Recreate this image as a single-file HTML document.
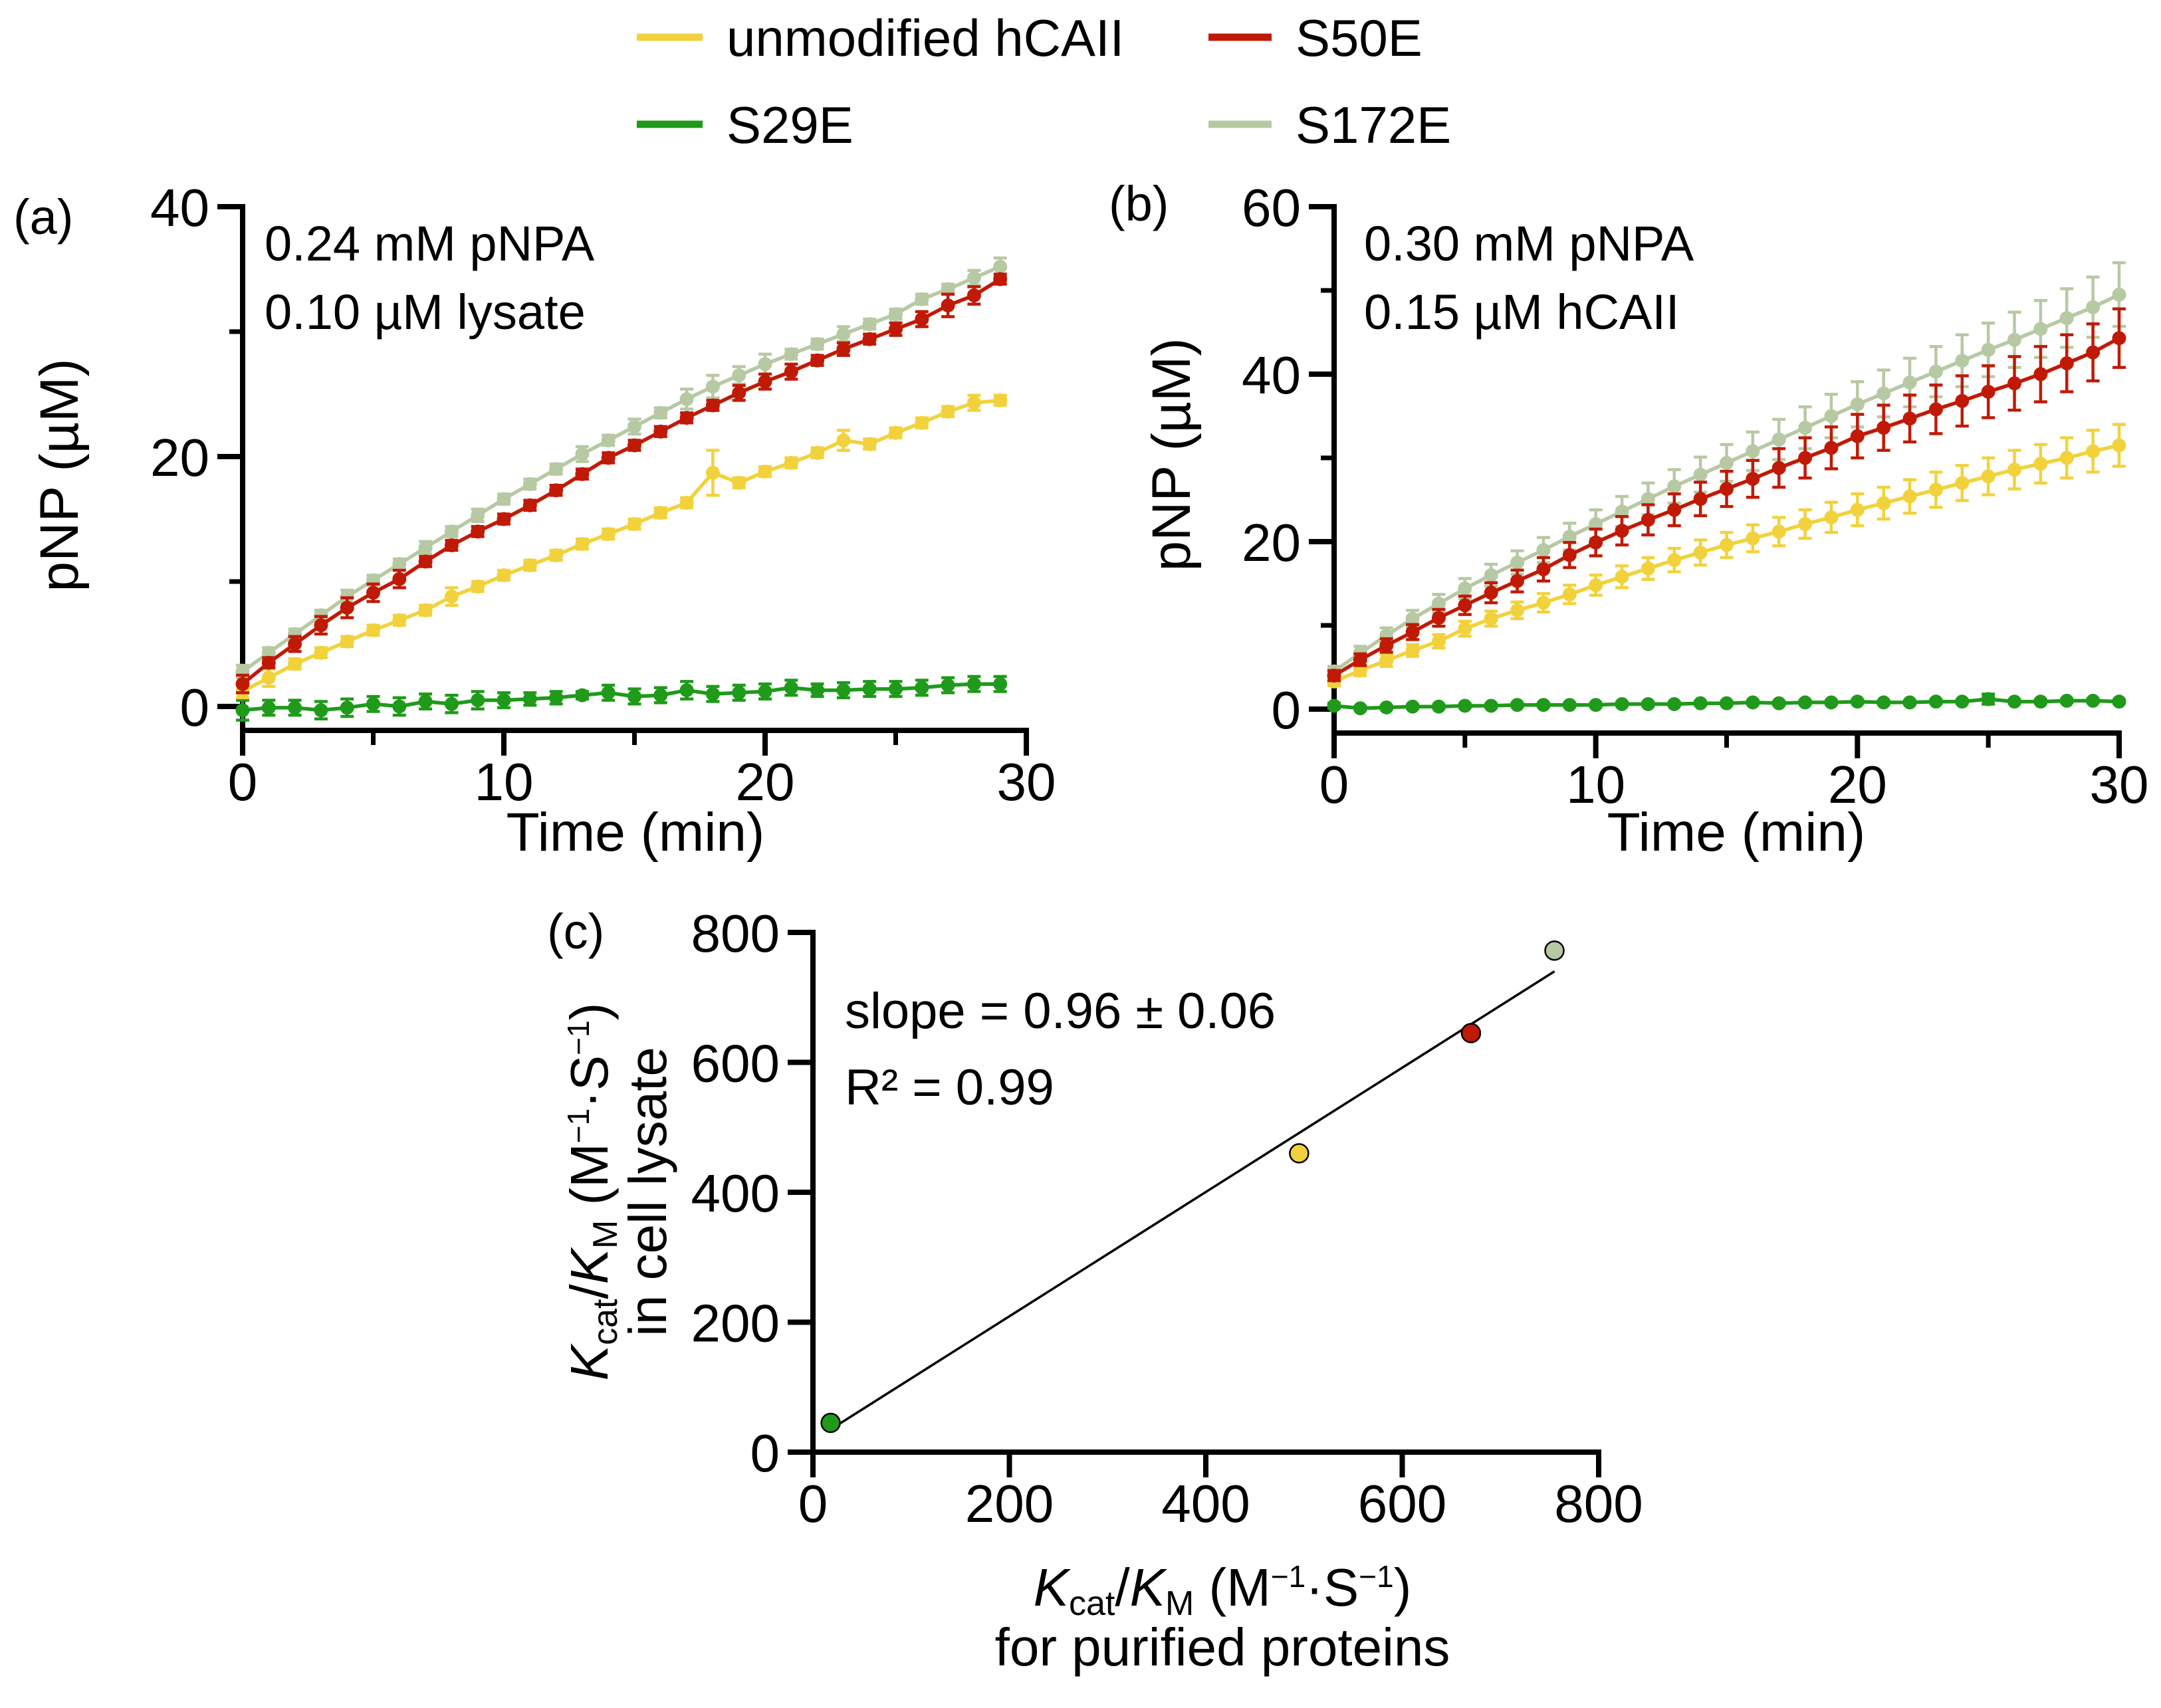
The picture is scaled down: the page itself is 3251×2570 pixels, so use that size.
<!DOCTYPE html>
<html><head><meta charset="utf-8"><style>
html,body{margin:0;padding:0;background:#fff}
svg{display:block}
text{font-family:"Liberation Sans",Arial,sans-serif;fill:#000}
</style></head><body>
<svg id="fig" width="3251" height="2570" viewBox="0 0 3251 2570" xmlns="http://www.w3.org/2000/svg">
<g>
 <g><line x1="958" y1="56" x2="1057" y2="56" stroke="#f2d23c" stroke-width="11"/><text x="1093" y="84" font-size="78">unmodified hCAII</text></g>
 <g><line x1="1818" y1="56" x2="1913" y2="56" stroke="#c01a06" stroke-width="11"/><text x="1949" y="84" font-size="78">S50E</text></g>
 <g><line x1="958" y1="187" x2="1057" y2="187" stroke="#1f9a1a" stroke-width="11"/><text x="1093" y="215" font-size="78">S29E</text></g>
 <g><line x1="1818" y1="187" x2="1913" y2="187" stroke="#b7c9a3" stroke-width="11"/><text x="1949" y="215" font-size="78">S172E</text></g>
</g>
<text x="20" y="352" font-size="74">(a)</text>
<text x="1668" y="332" font-size="74">(b)</text>
<text x="823" y="1427" font-size="74">(c)</text>
<g id="pa"></g>
<g id="pb"></g>
<g id="pc"></g>
</svg>
<script>
const NS="http://www.w3.org/2000/svg";
const colors={yellow:"#f2d23c",red:"#c01a06",green:"#1f9a1a",gray:"#b7c9a3"};
// Panel A data (time 0..29 min)
const aTime=[0,1,2,3,4,5,6,7,8,9,10,11,12,13,14,15,16,17,18,19,20,21,22,23,24,25,26,27,28,29];
const aGray=[2.8,4.3,5.8,7.3,8.8,10.1,11.4,12.7,14.0,15.3,16.6,17.8,19.0,20.2,21.3,22.4,23.5,24.6,25.6,26.5,27.4,28.2,29.0,29.8,30.6,31.4,32.6,33.4,34.3,35.2];
const aRed=[1.8,3.5,5.0,6.5,7.9,9.1,10.2,11.6,12.9,14.0,15.0,16.1,17.3,18.6,19.9,20.9,22.0,23.1,24.1,25.1,26.0,26.8,27.7,28.6,29.4,30.2,31.0,32.1,32.9,34.2];
const aYellow=[1.2,2.3,3.4,4.3,5.2,6.1,6.9,7.7,8.8,9.6,10.5,11.3,12.1,13.0,13.8,14.6,15.5,16.3,18.7,17.9,18.8,19.5,20.3,21.3,21.0,21.9,22.7,23.6,24.3,24.5];
const aGreen=[-0.3,-0.1,-0.1,-0.3,-0.1,0.2,0.0,0.4,0.2,0.5,0.5,0.6,0.7,0.9,1.1,0.8,0.9,1.3,1.0,1.1,1.2,1.5,1.3,1.3,1.4,1.4,1.5,1.7,1.8,1.8];
const aErrGray=[0.5,0.4,0.4,0.4,0.5,0.4,0.4,0.5,0.4,0.5,0.4,0.4,0.4,0.6,0.4,0.6,0.4,0.8,0.9,0.7,0.8,0.4,0.4,0.6,0.4,0.4,0.4,0.4,0.6,0.7];
const aErrRed=[0.7,0.4,0.6,0.7,0.8,0.7,0.7,0.4,0.4,0.4,0.4,0.4,0.4,0.4,0.4,0.4,0.4,0.4,0.4,0.6,0.6,0.6,0.4,0.5,0.4,0.5,0.6,0.9,0.7,0.4];
const aErrYellow=[0.5,0.7,0.4,0.4,0.4,0.4,0.4,0.4,0.7,0.4,0.4,0.4,0.4,0.4,0.4,0.4,0.4,0.4,1.8,0.4,0.4,0.4,0.4,0.8,0.4,0.4,0.4,0.4,0.6,0.4];
const aErrGreen=[0.8,0.6,0.6,0.7,0.7,0.6,0.7,0.6,0.7,0.7,0.6,0.5,0.5,0.3,0.6,0.6,0.6,0.7,0.6,0.6,0.6,0.6,0.5,0.6,0.6,0.6,0.6,0.6,0.6,0.6];
const aYTicks=[0,20,40], aXTicks=[0,10,20,30];
// Panel B data (time 0..30 min)
const bTime=[0,1,2,3,4,5,6,7,8,9,10,11,12,13,14,15,16,17,18,19,20,21,22,23,24,25,26,27,28,29,30];
const bGray=[4.5,6.7,8.8,10.8,12.6,14.4,16.0,17.5,19.0,20.6,22.1,23.6,25.1,26.6,28.0,29.4,30.8,32.2,33.6,35.0,36.4,37.7,39.0,40.3,41.6,42.9,44.1,45.4,46.7,48.0,49.5];
const bRed=[4.0,5.9,7.6,9.2,10.9,12.4,13.9,15.3,16.7,18.4,19.9,21.3,22.6,23.8,25.1,26.3,27.5,28.8,30.0,31.2,32.6,33.6,34.7,35.8,36.8,37.9,38.9,40.0,41.3,42.6,44.3];
const bYellow=[3.3,4.6,5.8,7.0,8.1,9.6,10.8,11.8,12.7,13.7,14.8,15.8,16.8,17.8,18.7,19.6,20.4,21.2,22.1,22.9,23.8,24.6,25.4,26.2,27.0,27.8,28.6,29.3,30.0,30.8,31.5];
const bGreen=[0.4,0.1,0.2,0.3,0.3,0.4,0.4,0.5,0.5,0.5,0.5,0.6,0.6,0.6,0.7,0.7,0.8,0.7,0.8,0.8,0.9,0.8,0.8,0.9,0.9,1.2,0.9,0.9,1.0,1.0,0.9];
const bErrGray=[0.6,0.8,0.9,1.0,1.1,1.2,1.3,1.4,1.5,1.6,1.7,1.8,1.9,2.0,2.1,2.2,2.3,2.4,2.5,2.6,2.7,2.8,2.9,3.0,3.1,3.2,3.3,3.4,3.5,3.6,3.8];
const bErrRed=[0.6,0.7,0.8,0.9,1.0,1.1,1.2,1.3,1.4,1.5,1.6,1.7,1.8,1.9,2.0,2.1,2.2,2.3,2.4,2.5,2.6,2.7,2.8,2.9,3.0,3.1,3.2,3.3,3.4,3.4,3.5];
const bErrYellow=[0.5,0.6,0.7,0.7,0.8,0.9,0.9,1.0,1.1,1.1,1.2,1.3,1.3,1.4,1.5,1.5,1.6,1.7,1.7,1.8,1.9,1.9,2.0,2.1,2.1,2.2,2.3,2.3,2.4,2.5,2.5];
const bErrGreen=[0.3,0.2,0.2,0.2,0.2,0.2,0.2,0.2,0.2,0.2,0.2,0.2,0.2,0.2,0.2,0.2,0.2,0.2,0.2,0.2,0.2,0.2,0.2,0.2,0.2,0.6,0.2,0.2,0.2,0.2,0.2];
const bYTicks=[0,20,40,60], bXTicks=[0,10,20,30];
// Panel C data
const cNames=["s29e","unmodified","s50e","s172e"];
const cPurified=[18,495,670,755];
const cLysate=[45,460,645,772];
const cColors=["#1f9a1a","#f2d23c","#c01a06","#b7c9a3"];
const cFitX=[18,755];
const cFitY=[35,740];
const cTicks=[0,200,400,600,800];

function el(parent,tag,attrs,txt){const e=document.createElementNS(NS,tag);for(const k in attrs)e.setAttribute(k,attrs[k]);if(txt!==undefined)e.textContent=txt;parent.appendChild(e);return e;}

function panel(g,cfg){
  const X=v=>cfg.x0+(v-cfg.xmin)/(cfg.xmax-cfg.xmin)*(cfg.x1-cfg.x0);
  const Y=v=>cfg.y0+(v-cfg.ymin)/(cfg.ymax-cfg.ymin)*(cfg.y1-cfg.y0);
  let a=el(g,"line",{x1:cfg.x0-4,y1:cfg.axisY,x2:cfg.x1+4,y2:cfg.axisY,stroke:"#000","stroke-width":8});
  
  a=el(g,"line",{x1:cfg.x0,y1:Y(cfg.ymax)-4,x2:cfg.x0,y2:cfg.axisY+(cfg.yExt||4),stroke:"#000","stroke-width":8});
  
  cfg.yTicks.forEach(v=>{const t=el(g,"line",{x1:cfg.x0-38,y1:Y(v),x2:cfg.x0,y2:Y(v),stroke:"#000","stroke-width":8});
    
    const l=el(g,"text",{x:cfg.x0-50,y:Y(v)+29,"font-size":80,"text-anchor":"end"},String(v));
    });
  cfg.yMinor.forEach(v=>{const t=el(g,"line",{x1:cfg.x0-20,y1:Y(v),x2:cfg.x0,y2:Y(v),stroke:"#000","stroke-width":7});
    });
  cfg.xTicks.forEach(v=>{const t=el(g,"line",{x1:X(v),y1:cfg.axisY,x2:X(v),y2:cfg.axisY+38,stroke:"#000","stroke-width":8});
    
    const l=el(g,"text",{x:X(v),y:cfg.axisY+105,"font-size":80,"text-anchor":"middle"},String(v));
    });
  cfg.xMinor.forEach(v=>{const t=el(g,"line",{x1:X(v),y1:cfg.axisY,x2:X(v),y2:cfg.axisY+22,stroke:"#000","stroke-width":7});
    });
  return {X,Y};
}

function series(g,X,Y,xs,ys,errs,color,name){
  const sg=el(g,"g",{});
  
  
  const pts=xs.map((x,i)=>X(x).toFixed(1)+","+Y(ys[i]).toFixed(1)).join(" ");
  const pl=el(sg,"polyline",{points:pts,fill:"none",stroke:color,"stroke-width":5.5});
  
  
  xs.forEach((x,i)=>{
    const cx=X(x),top=Y(ys[i]+errs[i]),bot=Y(ys[i]-errs[i]);
    const eb=el(sg,"path",{d:`M${cx},${top}V${bot}M${cx-10},${top}H${cx+10}M${cx-10},${bot}H${cx+10}`,stroke:color,"stroke-width":4.5,fill:"none"});
    
    
    const c=el(sg,"circle",{cx:cx,cy:Y(ys[i]),r:10.5,fill:color});
    
    
  });
}

// Panel A
const ga=document.getElementById('pa');
const A=panel(ga,{x0:365,x1:1544,xmin:0,xmax:30,y0:1063,y1:311,ymin:0,ymax:40,axisY:1099,yTicks:aYTicks,yMinor:[10,30],xTicks:aXTicks,xMinor:[5,15,25]});
series(ga,A.X,A.Y,aTime,aGreen,aErrGreen,colors.green,"s29e");
series(ga,A.X,A.Y,aTime,aYellow,aErrYellow,colors.yellow,"unmodified");
series(ga,A.X,A.Y,aTime,aGray,aErrGray,colors.gray,"s172e");
series(ga,A.X,A.Y,aTime,aRed,aErrRed,colors.red,"s50e");
let t=el(ga,"text",{x:398,y:392,"font-size":74},"0.24 mM pNPA");
t=el(ga,"text",{x:398,y:495,"font-size":74},"0.10 µM lysate");
t=el(ga,"text",{x:956,y:1280,"font-size":82,"text-anchor":"middle"},"Time (min)");
t=el(ga,"text",{x:0,y:0,"font-size":82,"text-anchor":"middle",transform:"translate(117,715) rotate(-90)"},"pNP (µM)");

// Panel B
const gb=document.getElementById('pb');
const B=panel(gb,{x0:2007,x1:3188,xmin:0,xmax:30,y0:1067,y1:311,ymin:0,ymax:60,axisY:1103,yTicks:bYTicks,yMinor:[10,30,50],xTicks:bXTicks,xMinor:[5,15,25]});
series(gb,B.X,B.Y,bTime,bGreen,bErrGreen,colors.green,"s29e");
series(gb,B.X,B.Y,bTime,bYellow,bErrYellow,colors.yellow,"unmodified");
series(gb,B.X,B.Y,bTime,bGray,bErrGray,colors.gray,"s172e");
series(gb,B.X,B.Y,bTime,bRed,bErrRed,colors.red,"s50e");
t=el(gb,"text",{x:2052,y:392,"font-size":74},"0.30 mM pNPA");
t=el(gb,"text",{x:2052,y:495,"font-size":74},"0.15 µM hCAII");
t=el(gb,"text",{x:2612,y:1280,"font-size":82,"text-anchor":"middle"},"Time (min)");
t=el(gb,"text",{x:0,y:0,"font-size":82,"text-anchor":"middle",transform:"translate(1790,684) rotate(-90)"},"pNP (µM)");

// Panel C
const gc=document.getElementById('pc');
const C=panel(gc,{x0:1223,x1:2405,xmin:0,xmax:800,y0:2185,y1:1403,ymin:0,ymax:800,axisY:2185,yExt:38,yTicks:cTicks,yMinor:[],xTicks:cTicks,xMinor:[]});
const fit=el(gc,"line",{x1:C.X(cFitX[0]),y1:C.Y(cFitY[0]),x2:C.X(cFitX[1]),y2:C.Y(cFitY[1]),stroke:"#000","stroke-width":3.5});


cPurified.forEach((x,i)=>{
  const c=el(gc,"circle",{cx:C.X(x),cy:C.Y(cLysate[i]),r:14,fill:cColors[i],stroke:"#000","stroke-width":2.5});
  
  
});
t=el(gc,"text",{x:1271,y:1547,"font-size":76},"slope = 0.96 ± 0.06");
t=el(gc,"text",{x:1271,y:1662,"font-size":76},"R² = 0.99");
t=el(gc,"text",{x:1839,y:2416,"font-size":80,"text-anchor":"middle"});
t.innerHTML='<tspan font-style="italic">K</tspan><tspan font-size="52" dy="14">cat</tspan><tspan dy="-14">/</tspan><tspan font-style="italic">K</tspan><tspan font-size="52" dy="14">M</tspan><tspan dy="-14"> (M</tspan><tspan font-size="46" dy="-28">−1</tspan><tspan dy="28">·S</tspan><tspan font-size="46" dy="-28">−1</tspan><tspan dy="28">)</tspan>';

t=el(gc,"text",{x:1839,y:2506,"font-size":80,"text-anchor":"middle"},"for purified proteins");
t=el(gc,"text",{x:0,y:0,"font-size":80,"text-anchor":"middle",transform:"translate(914,1793) rotate(-90)"});
t.innerHTML='<tspan font-style="italic">K</tspan><tspan font-size="52" dy="14">cat</tspan><tspan dy="-14">/</tspan><tspan font-style="italic">K</tspan><tspan font-size="52" dy="14">M</tspan><tspan dy="-14"> (M</tspan><tspan font-size="46" dy="-28">−1</tspan><tspan dy="28">·S</tspan><tspan font-size="46" dy="-28">−1</tspan><tspan dy="28">)</tspan>';

t=el(gc,"text",{x:0,y:0,"font-size":80,"text-anchor":"middle",transform:"translate(1002,1793) rotate(-90)"},"in cell lysate");
</script>
</body></html>
